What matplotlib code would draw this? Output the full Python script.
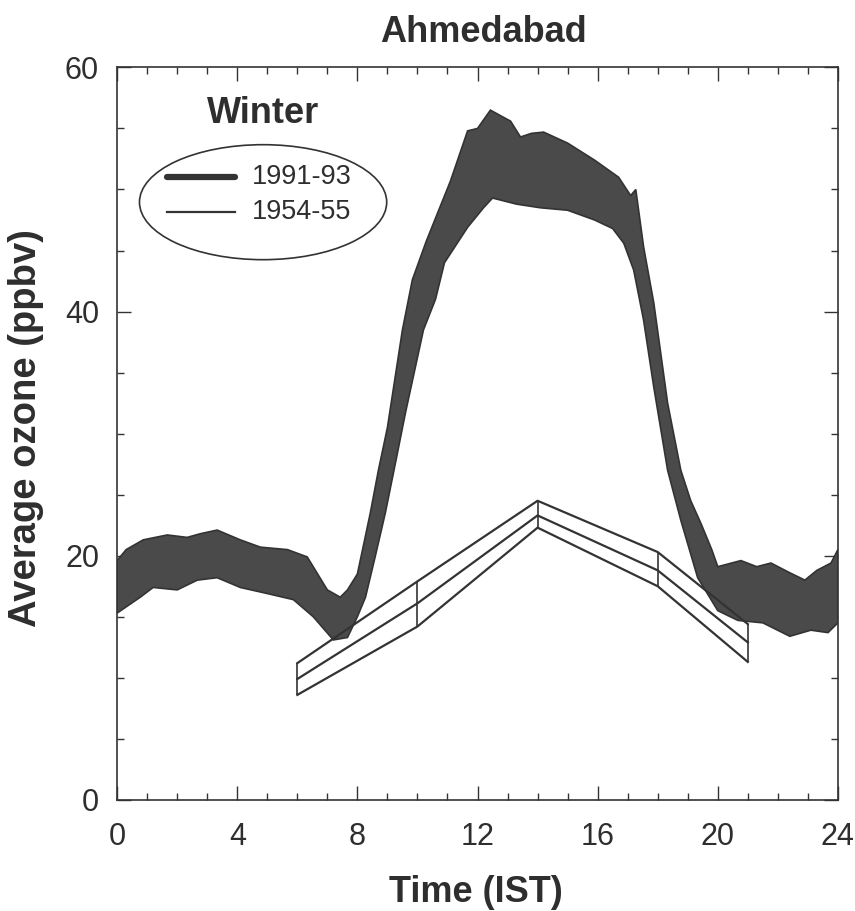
import matplotlib
matplotlib.use("Agg")
import matplotlib.pyplot as plt
from matplotlib.patches import Ellipse
from matplotlib.ticker import MultipleLocator

plt.rcParams['font.family'] = ['Liberation Sans', 'DejaVu Sans']

# 1991-93 band (upper and lower envelopes)
upper_x = [0.0, 0.3, 0.87, 1.67, 2.33, 2.77, 3.33, 4.1, 4.77, 5.67, 6.33, 7.0, 7.43, 7.67,
           8.0, 8.43, 8.7, 9.0, 9.5, 9.83, 10.3, 11.1, 11.67, 12.0, 12.43, 12.8, 13.1, 13.43,
           13.8, 14.2, 15.0, 15.9, 16.7, 17.1, 17.27, 17.53, 17.87, 18.33, 18.77, 19.1, 19.43,
           19.8, 20.0, 20.77, 21.3, 21.77, 22.4, 22.9, 23.3, 23.77, 24.0]
upper_y = [19.6, 20.5, 21.3, 21.7, 21.5, 21.8, 22.1, 21.3, 20.7, 20.5, 19.9, 17.2, 16.6, 17.2,
           18.5, 23.5, 27.0, 30.5, 38.5, 42.6, 45.8, 50.7, 54.8, 55.0, 56.5, 56.0, 55.6, 54.3,
           54.6, 54.7, 53.8, 52.4, 51.0, 49.5, 50.0, 45.3, 40.7, 32.5, 27.0, 24.5, 22.7,
           20.5, 19.1, 19.6, 19.1, 19.4, 18.6, 18.0, 18.8, 19.4, 20.5]
lower_x = [0.0, 0.77, 1.2, 2.0, 2.67, 3.33, 4.1, 5.0, 5.87, 6.53, 7.2, 7.67, 8.0, 8.27, 8.6,
           8.93, 9.3, 9.6, 10.2, 10.6, 10.9, 11.67, 12.2, 12.5, 13.3, 14.1, 15.0, 15.9, 16.5,
           16.87, 17.2, 17.53, 17.87, 18.33, 18.77, 19.33, 20.0, 20.67, 21.5, 22.4, 23.1,
           23.67, 24.0]
lower_y = [15.3, 16.6, 17.4, 17.2, 18.0, 18.2, 17.4, 16.9, 16.4, 15.0, 13.1, 13.3, 15.0, 16.6, 20.0,
           23.5, 28.0, 31.7, 38.5, 41.0, 44.0, 46.9, 48.5, 49.3, 48.8, 48.5, 48.3, 47.5, 46.8,
           45.6, 43.4, 39.3, 33.8, 27.0, 22.9, 18.2, 15.5, 14.7, 14.5, 13.4, 13.9,
           13.7, 14.5]

# 1954-55 (mean with upper/lower)
old_x = [6, 10, 14, 18, 21]
old_upper = [11.2, 17.9, 24.5, 20.3, 14.4]
old_mean = [9.9, 16.1, 23.3, 18.8, 12.9]
old_lower = [8.6, 14.2, 22.3, 17.5, 11.3]

xticks = [0, 4, 8, 12, 16, 20, 24]
yticks = [0, 20, 40, 60]

TXT = '#2e2e2e'
fig = plt.figure(figsize=(8.55, 9.11), dpi=100)
ax = fig.add_axes([0.137, 0.122, 0.843, 0.804])

band_x = list(upper_x) + list(reversed(lower_x))
band_y = list(upper_y) + list(reversed(lower_y))
ax.fill(band_x, band_y, facecolor='#4a4a4a', edgecolor='#333333', linewidth=1.2, zorder=2)

for series in (old_upper, old_mean, old_lower):
    ax.plot(old_x, series, color='#333333', linewidth=1.6, zorder=3)
ax.vlines(old_x, old_lower, old_upper, color='#333333', linewidth=1.2, zorder=3)

ax.set_xlim(0, 24)
ax.set_ylim(0, 60)
ax.set_xticks(xticks)
ax.set_yticks(yticks)
ax.xaxis.set_minor_locator(MultipleLocator(1))
ax.yaxis.set_minor_locator(MultipleLocator(5))
ax.tick_params(which='both', direction='in', top=True, right=True, colors='#333333',
               width=1.0)
ax.tick_params(which='major', length=10, labelsize=22, labelcolor=TXT)
ax.tick_params(axis='x', which='major', pad=16)
ax.tick_params(axis='y', which='major', pad=13)
ax.tick_params(which='minor', length=5)
for s in ax.spines.values():
    s.set_linewidth(1.2)
    s.set_color('#333333')

ax.set_xlabel('Time (IST)', fontsize=26, fontweight='bold', color=TXT, va='top')
ax.xaxis.set_label_coords(0.498, -0.103)
ax.set_ylabel('Average ozone (ppbv)', fontsize=27.5, fontweight='bold', color=TXT)
ax.yaxis.set_label_coords(-0.101, 0.507)
fig.text(483 / 855, 1 - 32 / 911, 'Ahmedabad', ha='center', va='center', fontsize=26,
         fontweight='bold', color=TXT)

# legend
ax.text(0.2025, 0.937, 'Winter', transform=ax.transAxes, ha='center', va='center',
        fontsize=26, fontweight='bold', color=TXT)
ax.add_patch(Ellipse((0.2025, 0.816), 0.343, 0.157, transform=ax.transAxes,
                     facecolor='none', edgecolor='#333333', linewidth=1.2))
ax.plot([0.069, 0.163], [0.851, 0.851], transform=ax.transAxes, color='#333333',
        linewidth=4.5, solid_capstyle='round')
ax.plot([0.069, 0.163], [0.803, 0.803], transform=ax.transAxes, color='#333333',
        linewidth=1.6)
ax.text(0.187, 0.851, '1991-93', transform=ax.transAxes, ha='left', va='center',
        fontsize=19.5, color=TXT)
ax.text(0.187, 0.803, '1954-55', transform=ax.transAxes, ha='left', va='center',
        fontsize=19.5, color=TXT)

fig.savefig('out.png', dpi=100)
